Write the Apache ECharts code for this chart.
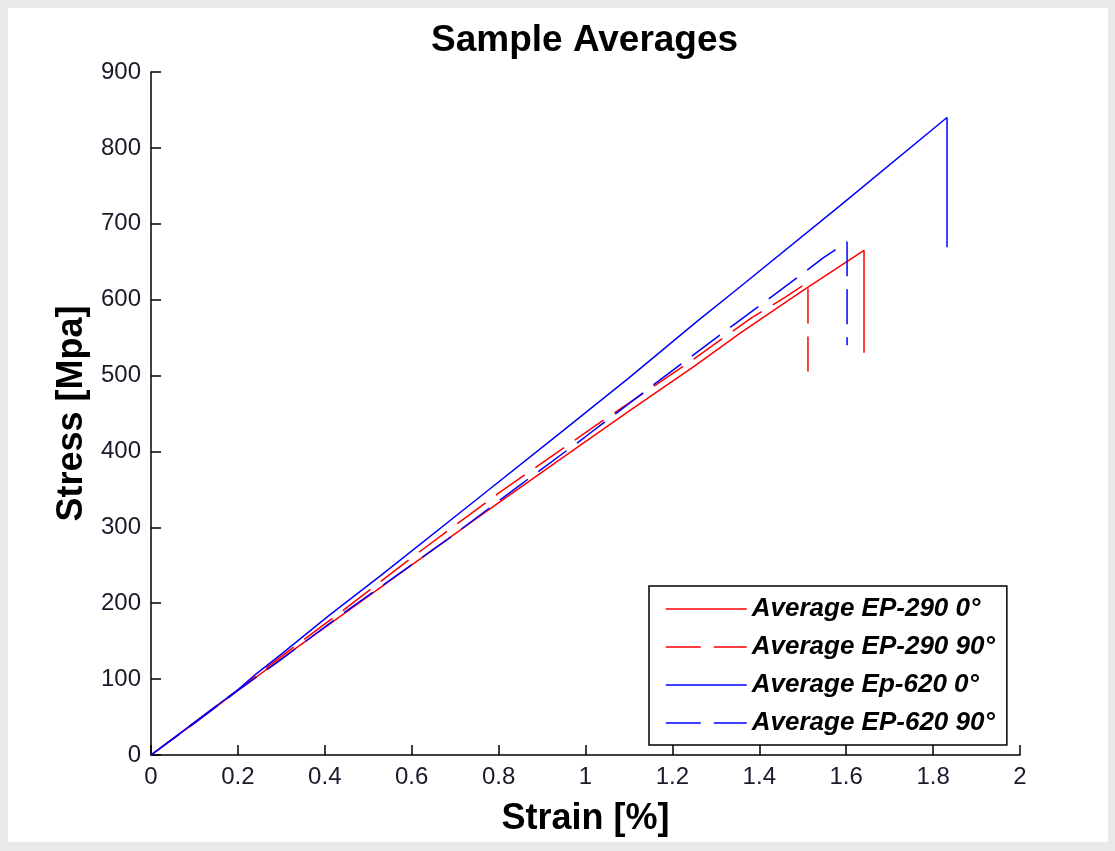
<!DOCTYPE html>
<html>
<head>
<meta charset="utf-8">
<script src="https://cdn.jsdelivr.net/npm/echarts@6/dist/echarts.min.js"></script>
<style>
  html, body { margin: 0; padding: 0; background: #e9e9e9; }
  #main { position: absolute; left: 8px; top: 8px; width: 1100px; height: 834px; background: #fff; }
</style>
</head>
<body>
<div id="main"></div>
<script>
// strain [%] / stress [MPa]
var ep290_0_strain = [0, 0.1, 0.2, 0.3, 0.41, 0.57, 0.75, 0.94, 1.1, 1.25, 1.356, 1.5, 1.641, 1.641];
var ep290_0_stress = [0, 42, 85, 127, 172, 238, 312, 389, 453, 512, 556, 612, 665, 530];

var ep290_90_strain = [0, 0.1, 0.2, 0.3, 0.443, 0.6, 0.684, 0.8, 1.018, 1.24, 1.382, 1.459, 1.512, 1.512];
var ep290_90_stress = [0, 43, 86, 130, 191, 260, 296, 345, 432, 518, 576, 603, 623, 498];

var ep620_0_strain = [0, 0.1, 0.2, 0.24, 0.3, 0.41, 0.53, 0.75, 0.95, 1.1, 1.256, 1.356, 1.586, 1.832, 1.832];
var ep620_0_stress = [0, 43, 86, 106, 133, 184, 237, 337, 428, 497, 571, 617, 724, 840, 669];

var ep620_90_strain = [0, 0.1, 0.2, 0.3, 0.45, 0.68, 0.85, 0.999, 1.15, 1.325, 1.471, 1.547, 1.602, 1.602];
var ep620_90_stress = [0, 42, 85, 126, 190, 283, 356, 419, 485, 560, 622, 655, 676, 540];

var seriesNames = ['Average EP-290 0\u00b0', 'Average EP-290 90\u00b0', 'Average Ep-620 0\u00b0', 'Average EP-620 90\u00b0'];
var dashPattern = [35, 13];

function pairs(xs, ys) {
    return xs.map(function (x, i) { return [x, ys[i]]; });
}

function makeLine(name, xs, ys, color, dashed) {
    return {
        name: name,
        type: 'line',
        symbol: 'none',
        data: pairs(xs, ys),
        lineStyle: { color: color, width: 1.5, type: dashed ? dashPattern : 'solid' },
        itemStyle: { color: color }
    };
}

function legendItem(name, color, dashed) {
    return {
        name: name,
        itemStyle: { opacity: 0 },
        lineStyle: { color: color, width: 1.5, type: dashed ? dashPattern : 'solid' }
    };
}

var myChart = echarts.init(document.getElementById('main'));

var option = {
    animation: false,
    backgroundColor: '#fff',
    textStyle: { fontFamily: 'Liberation Sans, Arial, sans-serif' },
    title: {
        text: 'Sample Averages',
        left: 418,
        top: 9,
        textStyle: { fontSize: 37, fontWeight: 'bold', color: '#000', fontFamily: 'Liberation Sans' }
    },
    grid: { left: 143, top: 64, width: 869, height: 683, containLabel: false },
    legend: {
        orient: 'vertical',
        left: 641,
        top: 578,
        padding: [9, 12, 8, 16],
        itemWidth: 81,
        itemHeight: 14,
        itemGap: 10,
        borderColor: '#000',
        borderWidth: 1.5,
        backgroundColor: '#fff',
        data: [
            legendItem(seriesNames[0], '#ff0000', false),
            legendItem(seriesNames[1], '#ff0000', true),
            legendItem(seriesNames[2], '#0000ff', false),
            legendItem(seriesNames[3], '#0000ff', true)
        ],
        textStyle: {
            fontSize: 26, fontWeight: 'bold', fontStyle: 'italic', color: '#000',
            lineHeight: 28, fontFamily: 'Liberation Sans'
        }
    },
    xAxis: {
        type: 'value',
        min: 0, max: 2, interval: 0.2,
        name: 'Strain [%]',
        nameLocation: 'middle',
        nameGap: 46,
        nameTextStyle: { fontSize: 36, fontWeight: 'bold', color: '#000' },
        axisLine: { lineStyle: { color: '#000', width: 1.5 } },
        axisTick: { inside: true, length: 10, lineStyle: { color: '#000', width: 1.5 } },
        axisLabel: { fontSize: 24, color: '#1a1a2a', margin: 10 },
        splitLine: { show: false }
    },
    yAxis: {
        type: 'value',
        min: 0, max: 900, interval: 100,
        name: 'Stress [Mpa]',
        nameLocation: 'middle',
        nameGap: 61,
        nameTextStyle: { fontSize: 36, fontWeight: 'bold', color: '#000' },
        axisLine: { show: true, lineStyle: { color: '#000', width: 1.5 } },
        axisTick: { show: true, inside: true, length: 10, lineStyle: { color: '#000', width: 1.5 } },
        axisLabel: { fontSize: 24, color: '#1a1a2a', margin: 10 },
        splitLine: { show: false }
    },
    series: [
        makeLine(seriesNames[0], ep290_0_strain, ep290_0_stress, '#ff0000', false),
        makeLine(seriesNames[1], ep290_90_strain, ep290_90_stress, '#ff0000', true),
        makeLine(seriesNames[2], ep620_0_strain, ep620_0_stress, '#0000ff', false),
        makeLine(seriesNames[3], ep620_90_strain, ep620_90_stress, '#0000ff', true)
    ]
};

myChart.setOption(option);
</script>
</body>
</html>
